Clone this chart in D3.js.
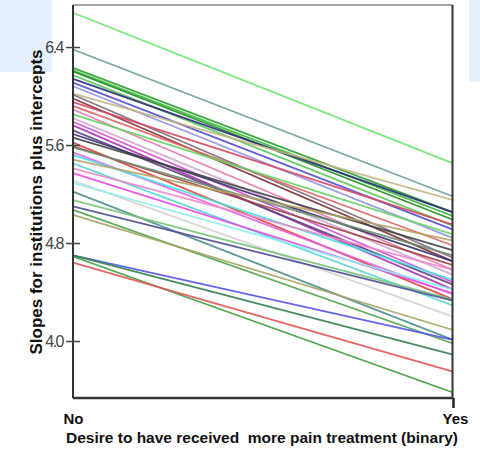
<!DOCTYPE html>
<html><head><meta charset="utf-8">
<script src="https://cdn.jsdelivr.net/npm/d3@7"></script>
<style>
html,body{margin:0;padding:0;background:#fff;}
svg{display:block;font-family:"Liberation Sans",Arial,sans-serif;}
</style></head>
<body><svg id="c" width="480" height="450"></svg>
<script>
const categories = ["No", "Yes"];
const yTicks = [4.0, 4.8, 5.6, 6.4];
// predicted value at "No" for each institution
const noValues = [6.68,6.38,6.23,6.21,6.20,6.17,6.14,6.11,6.08,6.02,6.01,5.98,5.95,5.92,5.89,5.85,5.82,5.79,5.76,5.72,5.69,5.66,5.62,5.59,5.58,5.54,5.52,5.48,5.45,5.41,5.37,5.31,5.29,5.22,5.15,5.10,5.07,5.03,4.70,4.69,4.64,4.70];
// predicted value at "Yes" for each institution
const yesValues = [5.45,5.18,5.05,5.02,4.99,4.94,5.05,4.91,4.84,5.15,4.68,4.65,4.95,4.78,4.58,4.87,4.54,4.48,4.42,4.46,4.65,4.74,4.34,4.62,4.70,4.38,4.50,4.82,4.29,4.58,4.39,4.20,4.42,4.01,4.34,4.33,3.98,4.09,4.01,3.58,3.75,3.89];
const palette = ["#6ee46e","#6a9c9c","#2ea02e","#3cbc3c","#1e8c1e","#5ac85a","#2a2a7a","#5050d0","#9494e4","#c4b484","#806a78","#803434","#d84860","#e06464","#e878a8","#66d466","#d4a8d4","#d848d8","#a834b4","#604484","#34346a","#444444","#e04444","#a44444","#6e8e6e","#e464e4","#48e0e0","#b4a464","#58d4d4","#f088c8","#e448e4","#d4d4d4","#88f0f0","#4e8e8e","#74c474","#4e4e94","#4ea44e","#a4a464","#5454e4","#3c9c3c","#e45454","#32824e"];

const svg = d3.select("#c");
// light blue corner panels
svg.append("rect").attr("x",0).attr("y",0).attr("width",52).attr("height",72).attr("fill","#e4f0fb");
svg.append("rect").attr("x",469).attr("y",0).attr("width",11).attr("height",82).attr("fill","#e4f0fb");

const x = d3.scalePoint().domain(categories).range([73, 453]);
const y = d3.scaleLinear().domain([3.535, 6.743]).range([398, 5]);

// frame top
svg.append("line").attr("x1",73).attr("x2",453).attr("y1",5).attr("y2",5).attr("stroke","#888").attr("stroke-width",1.5);

const data = noValues.map((v,i)=>({no:v, yes:yesValues[i], c:palette[i]}));
const line = d3.line().x(d=>x(d[0])).y(d=>y(d[1]));
svg.append("g").selectAll("path").data(data).join("path")
  .attr("d", d=>line([["No",d.no],["Yes",d.yes]]))
  .attr("fill","none").attr("stroke",d=>d.c).attr("stroke-width",1.8).attr("stroke-opacity",0.9);

// right border
svg.append("line").attr("x1",452.5).attr("x2",452.5).attr("y1",5).attr("y2",398).attr("stroke","#333").attr("stroke-width",2);

// y axis
const yAxis = d3.axisLeft(y).tickValues(yTicks).tickFormat(d3.format(".1f")).tickSizeOuter(0).tickSizeInner(7);
const ga = svg.append("g").attr("transform","translate(73,0)").call(yAxis);
ga.select(".domain").attr("d","M0,5V398").attr("stroke","#333").attr("stroke-width",2);
ga.selectAll(".tick line").attr("x1",-7).attr("x2",7).attr("stroke","#444").attr("stroke-width",1.5);
ga.selectAll(".tick text").attr("x",-10).attr("fill","#444").attr("font-size",16).attr("letter-spacing","-1.5px").attr("font-family","Liberation Sans, Arial, sans-serif");

// x axis
const xAxis = d3.axisBottom(x).tickSizeOuter(0).tickSizeInner(0).tickPadding(15);
const gx = svg.append("g").attr("transform","translate(0,398)").call(xAxis);
gx.select(".domain").attr("d","M73,0H453").attr("stroke","#333").attr("stroke-width",2.5);
gx.selectAll(".tick text").attr("font-size",15).attr("font-weight","bold").attr("fill","#111").attr("font-family","Liberation Sans, Arial, sans-serif");
gx.selectAll(".tick").filter(d=>d==="Yes").select("text").attr("dx",2);
gx.selectAll(".tick").filter(d=>d==="Yes").select("line").attr("y2",10).attr("stroke","#222").attr("stroke-width",2.5);

svg.append("text").attr("x",262).attr("y",443).attr("text-anchor","middle")
  .attr("font-size",15.5).attr("font-weight","bold").attr("fill","#111")
  .style("white-space","pre")
  .text("Desire to have received  more pain treatment (binary)");

svg.append("text").attr("transform","translate(42,202) rotate(-90)").attr("text-anchor","middle")
  .attr("font-size",17).attr("font-weight","bold").attr("fill","#111")
  .text("Slopes for institutions plus intercepts");
</script></body></html>
